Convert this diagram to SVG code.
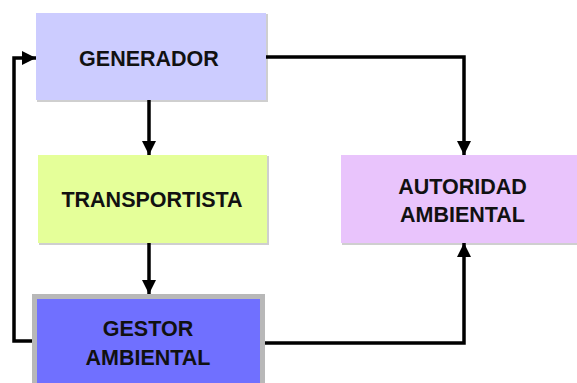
<svg xmlns="http://www.w3.org/2000/svg" width="577" height="383" viewBox="0 0 577 383">
<style>
.lbl{font-family:"Liberation Sans",Arial,sans-serif;font-weight:bold;font-size:21.5px;fill:#111;text-anchor:middle;dominant-baseline:central}
.edge{fill:none;stroke:#000;stroke-width:3.5;stroke-linejoin:miter}
.shadow{fill:#cfcfcf}
</style>
<defs>
<marker id="arr" viewBox="0 0 10 10" refX="10" refY="5" markerWidth="4" markerHeight="4" orient="auto" markerUnits="strokeWidth">
<path d="M0,0 L10,5 L0,10 z" fill="#000"/>
</marker>
</defs>
<rect width="577" height="383" fill="#fff"/>
<g id="generador">
<rect class="shadow" x="37" y="14" width="231" height="88"/>
<rect x="36" y="13" width="230" height="87" fill="#ccccff"/>
<text class="lbl" x="149" y="58.5">GENERADOR</text>
</g>
<g id="transportista">
<rect class="shadow" x="39" y="156" width="230" height="89"/>
<rect x="38" y="155" width="229" height="88" fill="#e5ff99"/>
<text class="lbl" x="152" y="200">TRANSPORTISTA</text>
</g>
<g id="gestor">
<rect x="34.5" y="296.5" width="228" height="100" fill="#7070ff" stroke="#b8b8b8" stroke-width="5"/>
<text class="lbl" x="148" y="329">GESTOR</text>
<text class="lbl" x="148" y="357.5">AMBIENTAL</text>
</g>
<g id="autoridad">
<rect class="shadow" x="342" y="156" width="240" height="89"/>
<rect x="341" y="155" width="240" height="88" fill="#e9c4fc"/>
<text class="lbl" x="462.5" y="186.5">AUTORIDAD</text>
<text class="lbl" x="462.5" y="215">AMBIENTAL</text>
</g>
<g id="connectors">
<path class="edge" d="M266,57 H464 V155" marker-end="url(#arr)"/>
<path class="edge" d="M149,100 V155" marker-end="url(#arr)"/>
<path class="edge" d="M149,243 V294" marker-end="url(#arr)"/>
<path class="edge" d="M32,341 H14 V58 H36" marker-end="url(#arr)"/>
<path class="edge" d="M265,343 H464 V243" marker-end="url(#arr)"/>
</g>
</svg>
